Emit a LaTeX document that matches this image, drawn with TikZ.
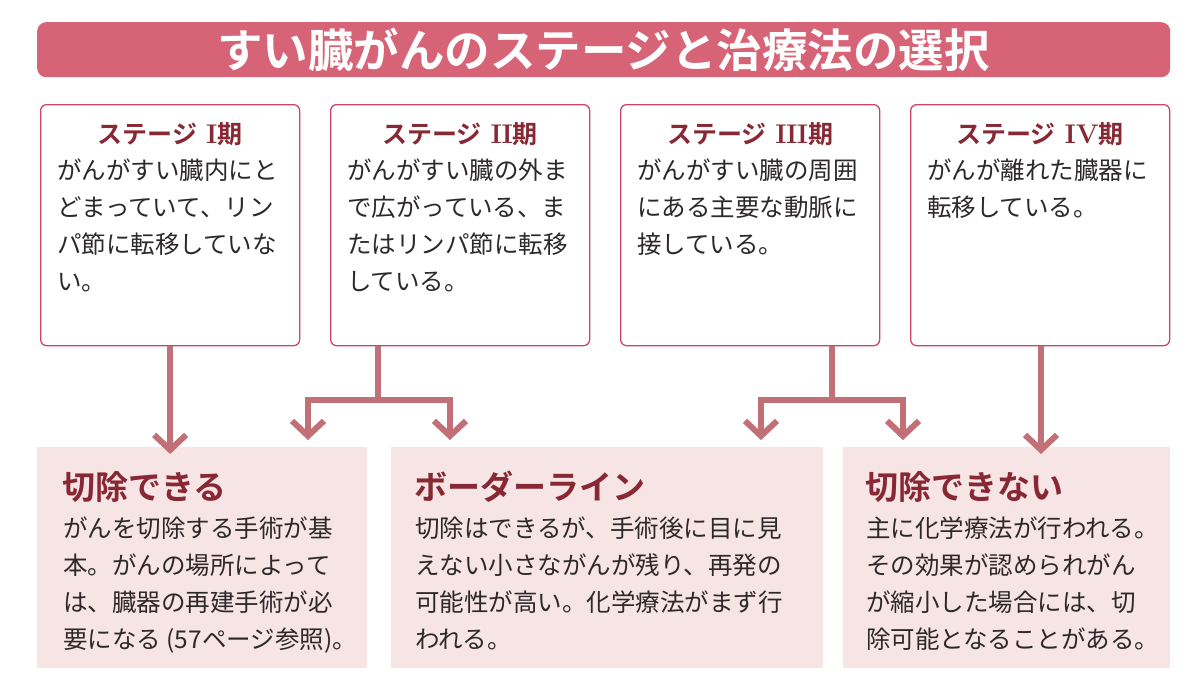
\documentclass[tikz,border=0pt]{standalone}
\usepackage{fontspec}
\newfontfamily\jp{Noto Sans CJK JP}
\newfontfamily\jpbold{Noto Sans CJK JP Bold}
\usetikzlibrary{arrows.meta}
\definecolor{titlered}{RGB}{214,100,118}
\definecolor{framered}{RGB}{204,70,100}
\definecolor{flowrose}{RGB}{192,112,118}
\definecolor{resultpink}{RGB}{247,228,228}
\definecolor{headred}{RGB}{135,40,52}
\definecolor{bodygray}{RGB}{45,40,42}
\newcommand{\stagenum}[1]{\hspace{0.35em}{\rmfamily\bfseries\fontsize{27}{27}\selectfont #1}}
\tikzset{
  stagebox/.style={draw=framered, line width=1.3pt, fill=white, rounded corners=6pt,
    anchor=north west, minimum width=259pt, minimum height=241pt, inner sep=0pt},
  resultbox/.style={fill=resultpink, anchor=north west, minimum height=221pt, inner sep=0pt},
  stagehead/.style={text=headred, font=\jpbold\fontsize{25}{25}\selectfont},
  resulthead/.style={text=headred, font=\jpbold\fontsize{33}{33}\selectfont, anchor=west, inner sep=0pt},
  bodytext/.style={text=bodygray, align=left, anchor=north west, inner sep=0pt,
    font=\jp\fontsize{24.5}{37}\selectfont},
  flow/.style={draw=flowrose, line width=6pt, -{Straight Barb[length=15pt,width=32pt]}},
  flowline/.style={draw=flowrose, line width=6pt}
}
\begin{document}
\begin{tikzpicture}[x=1pt,y=-1pt]
    \useasboundingbox[fill=white] (0,0) rectangle (1197,683);
    % title bar
    \node[fill=titlered, rounded corners=9pt, minimum width=1133pt, minimum height=55pt,
      anchor=north west, text=white, font=\jpbold\fontsize{45.5}{45.5}\selectfont] (title) at (37,22)
      {すい臓がんのステージと治療法の選択};

    % stage boxes
    \node[stagebox] (s1) at (40,104) {};
    \node[stagebox] (s2) at (330,104) {};
    \node[stagebox] (s3) at (620,104) {};
    \node[stagebox] (s4) at (910,104) {};
    \node[stagehead] (h1) at ([yshift=-30pt]s1.north) {ステージ\stagenum{I}期};
    \node[stagehead] (h2) at ([yshift=-30pt]s2.north) {ステージ\stagenum{I\kern-0.5pt I}期};
    \node[stagehead] (h3) at ([yshift=-30pt]s3.north) {ステージ\stagenum{I\kern-0.5pt I\kern-0.5pt I}期};
    \node[stagehead] (h4) at ([yshift=-30pt]s4.north) {ステージ\stagenum{IV}期};
    \node[bodytext] (t1) at ([xshift=17pt,yshift=-55pt]s1.north west)
      {がんがすい臓内にと\\どまっていて、リン\\パ節に転移していな\\い。};
    \node[bodytext] (t2) at ([xshift=17pt,yshift=-55pt]s2.north west)
      {がんがすい臓の外ま\\で広がっている、ま\\たはリンパ節に転移\\している。};
    \node[bodytext] (t3) at ([xshift=17pt,yshift=-55pt]s3.north west)
      {がんがすい臓の周囲\\にある主要な動脈に\\接している。};
    \node[bodytext] (t4) at ([xshift=17pt,yshift=-55pt]s4.north west)
      {がんが離れた臓器に\\転移している。};

    % result boxes
    \node[resultbox, minimum width=330pt] (r1) at (37,447) {};
    \node[resultbox, minimum width=432pt] (r2) at (391,447) {};
    \node[resultbox, minimum width=327pt] (r3) at (843,447) {};
    \node[resulthead] (k1) at ([xshift=25pt,yshift=-40pt]r1.north west) {切除できる};
    \node[resulthead] (k2) at ([xshift=23pt,yshift=-40pt]r2.north west) {ボーダーライン};
    \node[resulthead] (k3) at ([xshift=22pt,yshift=-40pt]r3.north west) {切除できない};
    \node[bodytext] (b1) at ([xshift=26pt,yshift=-70pt]r1.north west)
      {がんを切除する手術が基\\本。がんの場所によって\\は、臓器の再建手術が必\\要になる (57ページ参照)。};
    \node[bodytext] (b2) at ([xshift=24pt,yshift=-70pt]r2.north west)
      {切除はできるが、手術後に目に見\\えない小さながんが残り、再発の\\可能性が高い。化学療法がまず行\\われる。};
    \node[bodytext] (b3) at ([xshift=23pt,yshift=-70pt]r3.north west)
      {主に化学療法が行われる。\\その効果が認められがん\\が縮小した場合には、切\\除可能となることがある。};

    % connectors
    \coordinate (j2) at (378,400);
    \coordinate (j3) at (832,400);
    \coordinate (a2l) at (308,440);
    \coordinate (a2r) at (450,440);
    \coordinate (a3l) at (761,440);
    \coordinate (a3r) at (903,440);
    \draw[flow] (s1.south) -- ([yshift=-7pt]s1.south |- r1.north);
    \draw[flow] (s4.south -| 1041,0) -- ([yshift=-7pt]1041,447);
    \draw[flowline] (s2.south -| j2) -- (j2);
    \draw[flow] (j2) -| (a2l);
    \draw[flow] (j2) -| (a2r);
    \draw[flowline] (s3.south -| j3) -- (j3);
    \draw[flow] (j3) -| (a3l);
    \draw[flow] (j3) -| (a3r);
\end{tikzpicture}
\end{document}
